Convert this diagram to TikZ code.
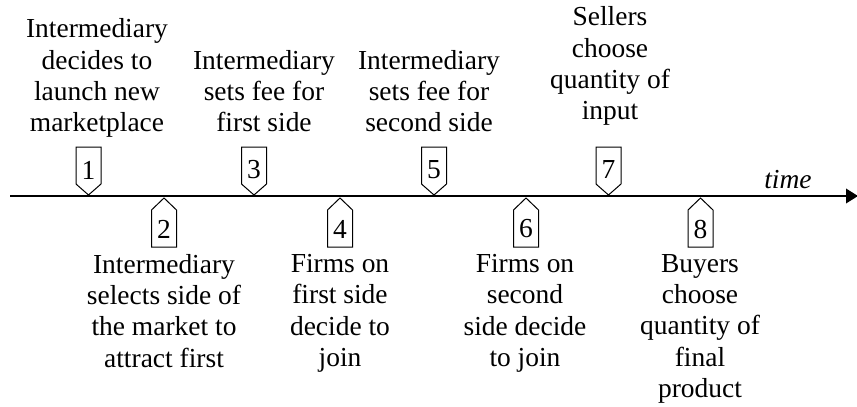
\documentclass[tikz,border=0pt]{standalone}
\usepackage{fontspec}
\setmainfont{Liberation Serif}
\usetikzlibrary{arrows.meta,positioning}

\tikzset{
  event/.style={align=center, inner sep=0pt, font=\fontsize{20.6}{23.5}\selectfont},
  evup/.style={event, text depth=0pt, anchor=south},
  evdown/.style={event, anchor=north},
  marker/.style={draw=black, line width=0.75pt, fill=white},
  num/.style={inner sep=0pt, font=\fontsize{20.6}{23.5}\selectfont}
}

\begin{document}
\begin{tikzpicture}[x=0.75pt, y=-0.75pt]
  \useasboundingbox (0,0) rectangle (857,407);

  % time axis
  \coordinate (start) at (10,196);
  \coordinate (end) at (858,196);
  \draw[line width=1.1pt, -{Triangle[length=9pt, width=11pt]}] (start) -- (end);
  \node[num, anchor=base, font=\fontsize{20.6}{23.5}\selectfont\itshape] (time) at (788,188) {time};

  % markers above the axis
  \foreach \n/\x in {1/88.5,3/254,5/434,7/608.5}{
    \draw[marker] (\x-12.5,147) -- (\x+12.5,147) -- (\x+12.5,184) -- (\x,195) -- (\x-12.5,184) -- cycle;
    \node[num] (m\n) at (\x,170) {\n};
  }
  % markers below the axis
  \foreach \n/\x in {2/164,4/340,6/526,8/700.5}{
    \draw[marker] (\x,198) -- (\x+12.5,210) -- (\x+12.5,247) -- (\x-12.5,247) -- (\x-12.5,210) -- cycle;
    \node[num] (m\n) at (\x,229) {\n};
  }

  % events
  \node[evup] (ev1) at (97,132) {Intermediary\\decides to\\launch new\\marketplace};
  \node[evup] (ev3) at (264,132) {Intermediary\\sets fee for\\first side};
  \node[evup] (ev5) at (429,132) {Intermediary\\sets fee for\\second side};
  \node[evup] (ev7) at (610,120) {Sellers\\choose\\quantity of\\input};
  \node[evdown] (ev2) at (164,254) {Intermediary\\selects side of\\the market to\\attract first};
  \node[evdown] (ev4) at (340,254) {Firms on\\first side\\decide to\\join};
  \node[evdown] (ev6) at (525,254) {Firms on\\second\\side decide\\to join};
  \node[evdown] (ev8) at (700,254) {Buyers\\choose\\quantity of\\final\\product};
\end{tikzpicture}
\end{document}
